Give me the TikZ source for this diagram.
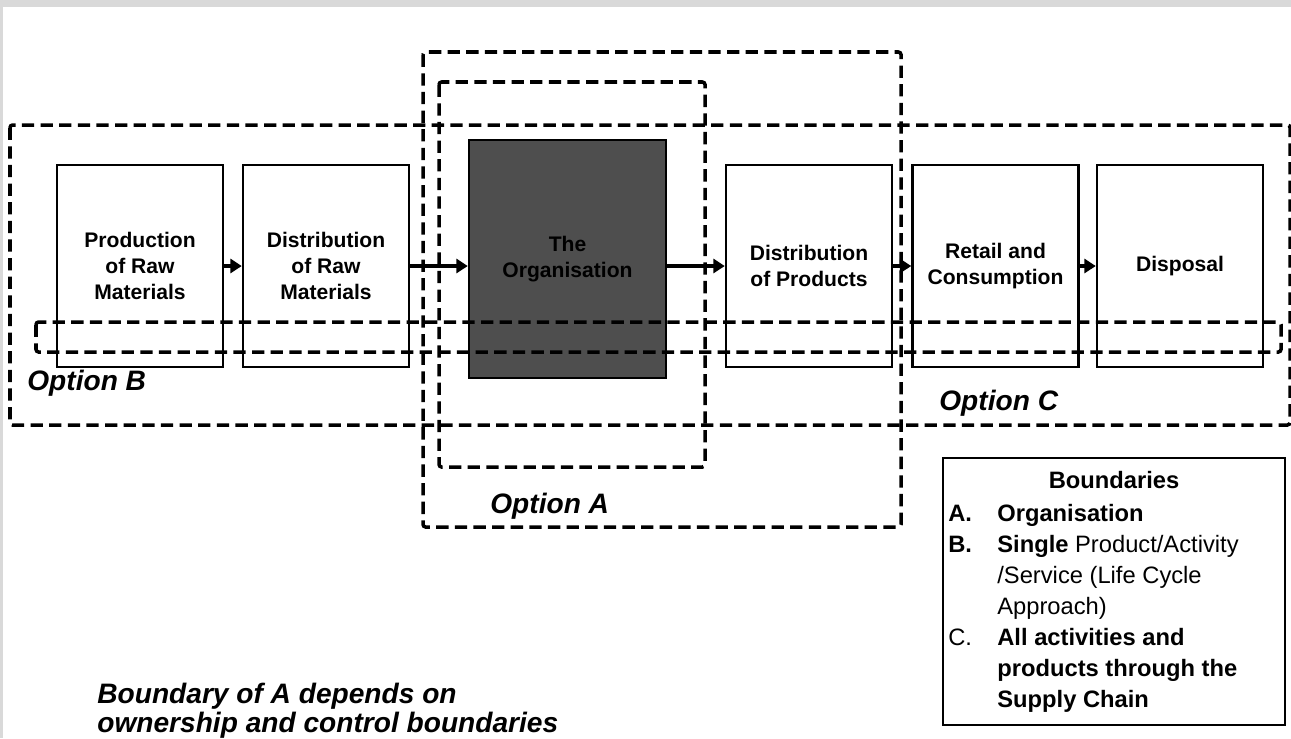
\documentclass[tikz,border=0pt]{standalone}
\usepackage{fontspec}
\setmainfont{Liberation Sans}
\usetikzlibrary{arrows.meta,positioning,calc}
\definecolor{framegray}{RGB}{217,217,217}
\definecolor{orggray}{RGB}{78,78,78}

\begin{document}
\begin{tikzpicture}[x=0.2mm,y=-0.2mm,
  stage/.style={draw,line width=1.4pt,fill=white,text=black,inner sep=0pt,align=center,
    minimum width=33.2mm,minimum height=40.4mm,font=\fontsize{12}{14.8}\selectfont\bfseries},
  bound/.style={line width=2pt,dash pattern=on 7pt off 3.6pt,rounded corners=1.5pt},
  flow/.style={line width=2.3pt,-{Triangle[length=6.5pt,width=8pt]}},
  optlabel/.style={anchor=base west,inner sep=0pt,font=\fontsize{16}{16.5}\selectfont\bfseries\itshape},
  legtext/.style={anchor=base west,inner sep=0pt,align=left,font=\fontsize{13.5}{17.6}\selectfont}]
  \fill[framegray] (0,0) rectangle (1291,738);
  \fill[white] (3,7) rectangle (1291,738);
  \useasboundingbox (0,0) rectangle (1291,738);
  \node[stage] (prodraw) at (140,266) {Production\\of Raw\\Materials};
  \node[stage] (distraw) at (326,266) {Distribution\\of Raw\\Materials};
  \node[stage,fill=orggray,minimum width=39.4mm,minimum height=47.6mm] (org) at (567.5,259) {The\\Organisation};
  \node[stage] (distprod) at (809,266) {Distribution\\of Products};
  \node[stage] (retail) at (995.5,266) {Retail and\\Consumption};
  \node[stage] (disposal) at (1180,266) {Disposal};
  \draw[flow] (prodraw.east) -- (distraw.west);
  \draw[flow] (distraw.east) -- (distraw.east -| org.west);
  \draw[flow] (org.east |- distprod.west) -- (distprod.west);
  \draw[flow] (distprod.east) -- (retail.west);
  \draw[flow] (retail.east) -- (disposal.west);
  \draw[bound] (10,125) rectangle (1290,425);
  \draw[bound] (36,322) rectangle (1281,352);
  \draw[bound] (423,52) rectangle (901,527);
  \draw[bound] (439,82) rectangle (705,467);
  \node[optlabel] (optB) at (27,390) {Option B};
  \node[optlabel] (optC) at (939,410) {Option C};
  \node[optlabel] (optA) at (490,513) {Option A};
  \node[draw,line width=1.4pt,inner sep=0pt,minimum width=68.4mm,minimum height=53.4mm] (legend) at (1114,591.5) {};
  \node[legtext,anchor=base] (legtitle) at (legend.center |- 0,488) {\bfseries Boundaries};
  \node[legtext] (keyA) at (948,521) {\bfseries A.};
  \node[legtext] (keyB) at (948,552) {\bfseries B.};
  \node[legtext] (keyC) at (948,645) {C.};
  \node[legtext] (itemA) at (997,521) {\bfseries Organisation};
  \node[legtext] (itemB) at (997,614) {\textbf{Single} Product/Activity\\/Service (Life Cycle\\Approach)};
  \node[legtext,font=\fontsize{13.5}{17.6}\selectfont\bfseries] (itemC) at (997,707) {All activities and\\products through the\\Supply Chain};
  \node[optlabel,align=left] (note) at (97,732) {Boundary of A depends on\\ownership and control boundaries};
\end{tikzpicture}
\end{document}
